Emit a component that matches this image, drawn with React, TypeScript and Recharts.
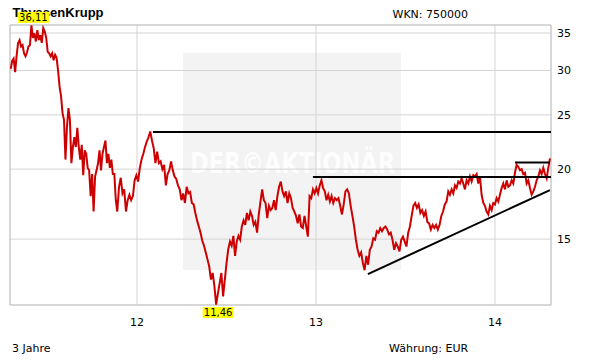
import React from 'react';
import {
  LineChart,
  Line,
  XAxis,
  YAxis,
  CartesianGrid,
  ReferenceLine,
  ReferenceArea,
  ReferenceDot,
} from 'recharts';

const titleText = 'ThyssenKrupp';
const wknText = 'WKN: 750000';
const periodText = '3 Jahre';
const currencyText = 'Währung: EUR';
const watermarkText = 'DER©AKTIONÄR';

// Closing prices (EUR), in time order
const prices2011a = [
  30.2, 31.2, 31.5, 29.8, 31.9, 33.6, 34.0, 33.1, 33.3, 32.2,
  31.8, 32.3, 33.1, 33.3, 36.11, 34.3, 34.95, 33.8, 35.4, 34.0,
  34.7, 33.6, 35.7, 35.2, 34.3, 32.4, 32.2, 31.8, 32.2, 31.3,
  32.0, 31.6, 30.0, 28.1, 27.0, 25.2, 24.5, 20.8, 23.8, 25.7,
  24.5, 20.5, 21.9, 22.8, 21.9, 23.7, 21.9, 20.8, 22.1, 19.5,
  21.6, 21.3, 20.1, 19.9, 17.9, 19.6, 16.8, 19.4, 19.9, 20.5,
  21.6, 19.9, 21.3, 21.9, 22.5, 20.5, 21.3, 20.1, 20.8, 19.6,
  19.6, 17.6, 16.8,
];
const prices2012a = [
  18.6, 19.3, 18.1, 18.4, 16.8, 17.6, 18.0, 17.6, 17.9, 19.1,
  19.5, 19.0, 20.1, 20.8, 21.3, 21.9, 22.4, 22.8, 23.35, 22.5,
  21.8, 20.5, 21.5, 20.5, 20.65, 20.0, 20.35, 18.7, 19.6, 19.9,
  20.65, 19.9, 19.4, 19.2, 18.7, 18.4, 17.6, 18.1, 17.4, 18.6,
  18.1, 18.2, 17.4, 17.3, 16.7, 16.2, 15.8, 15.4, 14.9, 14.6,
  14.2, 13.8, 13.4, 12.7, 13.05, 12.35, 11.46, 11.99, 12.5, 13.05,
  11.85, 12.7, 13.6, 14.4,
];
const prices2012b = [
  14.85, 14.6, 15.2, 14.0, 14.85, 15.2, 14.96, 15.8, 16.2, 15.9,
  16.7, 16.2, 16.8, 16.5, 15.9, 16.1, 15.4, 16.6, 17.5, 18.4,
  17.6, 17.4, 16.35, 17.2, 16.9, 17.05, 17.6, 16.9, 17.9, 18.6,
  19.0, 18.25, 17.9, 18.25, 17.4, 18.1, 17.75, 17.05, 16.8, 16.5,
  16.0, 16.6, 15.8, 15.7, 16.5, 15.8, 15.15, 17.9, 17.75, 18.4,
  18.1, 18.5, 18.1, 18.7, 19.1, 18.5, 18.25, 17.6, 18.0, 17.5,
  17.9, 17.4, 17.75,
];
const prices2013a = [
  17.6, 17.75, 17.2, 16.6, 17.3, 18.25, 18.4, 18.1, 17.2, 16.5,
  15.8, 14.96, 14.36, 14.0, 14.2, 13.6, 13.2, 14.0, 13.5, 14.36,
  14.55, 15.05, 14.96, 15.5, 15.4, 15.7, 15.5, 15.7, 15.8, 15.6,
  15.3, 15.4, 14.96, 14.36, 14.75, 14.55, 14.26, 14.96, 15.15, 14.85,
  14.55, 15.4, 15.8, 16.5, 17.2, 17.4, 17.05, 17.3, 16.7, 16.9,
  16.5, 16.8, 16.1, 16.0, 15.6, 15.9, 15.7, 15.9, 15.6, 15.9,
  16.5, 16.8, 17.3, 17.5, 18.25,
];
const prices2014a = [
  18.0, 18.4, 18.1, 18.7, 18.5, 19.0, 18.85, 19.25, 18.85, 18.4,
  19.1, 18.85, 19.4, 19.0, 19.5, 19.4, 19.6, 18.85, 19.4, 18.0,
  17.4, 17.2, 16.8, 16.6, 17.2, 16.9, 17.4, 17.3, 17.75, 17.5,
  18.0, 18.5, 18.85, 18.4, 19.1, 18.6, 18.7, 19.1, 18.85, 19.7,
  20.35, 20.2, 19.9, 20.0, 19.6, 19.7, 18.85, 19.1, 18.5, 18.0,
  18.25, 18.6, 19.1, 19.4, 19.9, 19.6, 20.1, 19.6, 19.25, 20.1,
  20.9,
];

// Date anchors (index in series -> decimal year)
const anchorIndex = [0, 72, 136, 199, 264, 325];
const anchorYear = [2011.2944, 2011.8899, 2012.5101, 2013.1061, 2013.7391, 2014.3073];

const yearTicks = [2012, 2013, 2014];
const priceTicks = [15, 20, 25, 30, 35];
const xDomain = [2011.2905, 2014.313];
const yDomain = [11.44, 36.17];

// Drawn resistance lines: [fromYear, toYear, level]
const resistanceTop = [2012.089, 2014.313, 23.3];
const resistanceMid = [2012.983, 2014.313, 19.36];
const resistanceShort = [2014.112, 2014.307, 20.55];
// Rising support line: [fromYear, fromLevel, toYear, toLevel]
const supportLine = [2013.29, 12.99, 2014.307, 18.35];

const prices = [...prices2011a, ...prices2012a, ...prices2012b, ...prices2013a, ...prices2014a];

function yearAt(i: number): number {
  for (let k = 0; k < anchorIndex.length - 1; k++) {
    const a = anchorIndex[k];
    const b = anchorIndex[k + 1];
    if (i <= b || k === anchorIndex.length - 2) {
      return anchorYear[k] + ((i - a) / (b - a)) * (anchorYear[k + 1] - anchorYear[k]);
    }
  }
  return anchorYear[0];
}

const data = prices.map((p, i) => ({ t: yearAt(i), p }));

let maxI = 0;
let minI = 0;
prices.forEach((p, i) => {
  if (p > prices[maxI]) maxI = i;
  if (p < prices[minI]) minI = i;
});

const fmt = (v: number) => v.toFixed(2).replace('.', ',');

const FONT = "'DejaVu Sans', Verdana, sans-serif";

const ValueBadge = (props: any) => {
  const { cx, cy, below, text } = props;
  if (cx == null || cy == null) return null;
  const w = 31;
  const h = 11;
  const x = cx - w / 2 + 2;
  const y = below ? cy + 2.5 : cy - 13.5;
  return (
    <g>
      <rect x={x} y={y} width={w} height={h} fill="#ffff00" />
      <text x={x + w / 2} y={y + 9} textAnchor="middle" fontSize={10} fontFamily={FONT} fill="#000">
        {text}
      </text>
    </g>
  );
};

export default function App() {
  return (
    <div style={{ position: 'fixed', left: 0, top: 0, width: 611, height: 364, background: '#fff', overflow: 'hidden' }}>
      <svg width={611} height={364} style={{ position: 'absolute', left: 0, top: 0 }}>
        <rect x={183} y={53} width={218} height={217} fill="#f3f3f3" />
        <text
          x={190}
          y={173}
          fontSize={29}
          fontWeight="bold"
          fontFamily={FONT}
          fill="#fdfdfd"
          textLength={205}
          lengthAdjust="spacingAndGlyphs"
        >
          {watermarkText}
        </text>
        <text x={12.5} y={17} fontSize={13} fontWeight="bold" fontFamily="'Liberation Sans', Arial, sans-serif" fill="#000">
          {titleText}
        </text>
        <text x={392.5} y={18} fontSize={11} fontFamily={FONT} fill="#000">
          {wknText}
        </text>
        <text x={12} y={352} fontSize={11} fontFamily={FONT} fill="#000">
          {periodText}
        </text>
        <text x={389} y={352} fontSize={11} fontFamily={FONT} fill="#000">
          {currencyText}
        </text>
      </svg>
      <div style={{ position: 'absolute', left: 0, top: 0 }}>
        <LineChart width={611} height={364} data={data} margin={{ top: 25, right: 0, bottom: 29, left: 10 }}>
          <CartesianGrid stroke="#d4d4d4" strokeWidth={1} />
          <XAxis
            dataKey="t"
            type="number"
            domain={xDomain}
            allowDataOverflow
            ticks={yearTicks}
            tickFormatter={(v: number) => String(v).slice(2)}
            tickLine={false}
            axisLine={false}
            tickMargin={7}
            height={30}
            tick={{ fontSize: 11, fill: '#000', fontFamily: FONT }}
          />
          <YAxis
            orientation="right"
            scale="log"
            domain={yDomain}
            allowDataOverflow
            ticks={priceTicks}
            tickLine={false}
            axisLine={false}
            tickMargin={0}
            width={60}
            tick={{ fontSize: 11, fill: '#000', fontFamily: FONT }}
          />
          <ReferenceArea
            x1={xDomain[0]}
            x2={xDomain[1]}
            y1={yDomain[0]}
            y2={yDomain[1]}
            fill="none"
            fillOpacity={0}
            stroke="#c4c4c4"
            strokeWidth={1}
            ifOverflow="visible"
          />
          <Line
            type="linear"
            dataKey="p"
            stroke="#cc0000"
            strokeWidth={2}
            strokeLinejoin="miter"
            dot={false}
            isAnimationActive={false}
          />
          <ReferenceLine
            segment={[{ x: resistanceTop[0], y: resistanceTop[2] }, { x: resistanceTop[1], y: resistanceTop[2] }]}
            stroke="#000"
            strokeWidth={2}
            ifOverflow="visible"
          />
          <ReferenceLine
            segment={[{ x: resistanceMid[0], y: resistanceMid[2] }, { x: resistanceMid[1], y: resistanceMid[2] }]}
            stroke="#000"
            strokeWidth={2}
            ifOverflow="visible"
          />
          <ReferenceLine
            segment={[{ x: resistanceShort[0], y: resistanceShort[2] }, { x: resistanceShort[1], y: resistanceShort[2] }]}
            stroke="#000"
            strokeWidth={2}
            ifOverflow="visible"
          />
          <ReferenceLine
            segment={[{ x: supportLine[0], y: supportLine[1] }, { x: supportLine[2], y: supportLine[3] }]}
            stroke="#000"
            strokeWidth={2}
            ifOverflow="visible"
          />
          <ReferenceDot
            x={data[maxI].t}
            y={prices[maxI]}
            r={0}
            ifOverflow="visible"
            shape={(p: any) => <ValueBadge {...p} text={fmt(prices[maxI])} below={false} />}
          />
          <ReferenceDot
            x={data[minI].t}
            y={prices[minI]}
            r={0}
            ifOverflow="visible"
            shape={(p: any) => <ValueBadge {...p} text={fmt(prices[minI])} below={true} />}
          />
        </LineChart>
      </div>
    </div>
  );
}
